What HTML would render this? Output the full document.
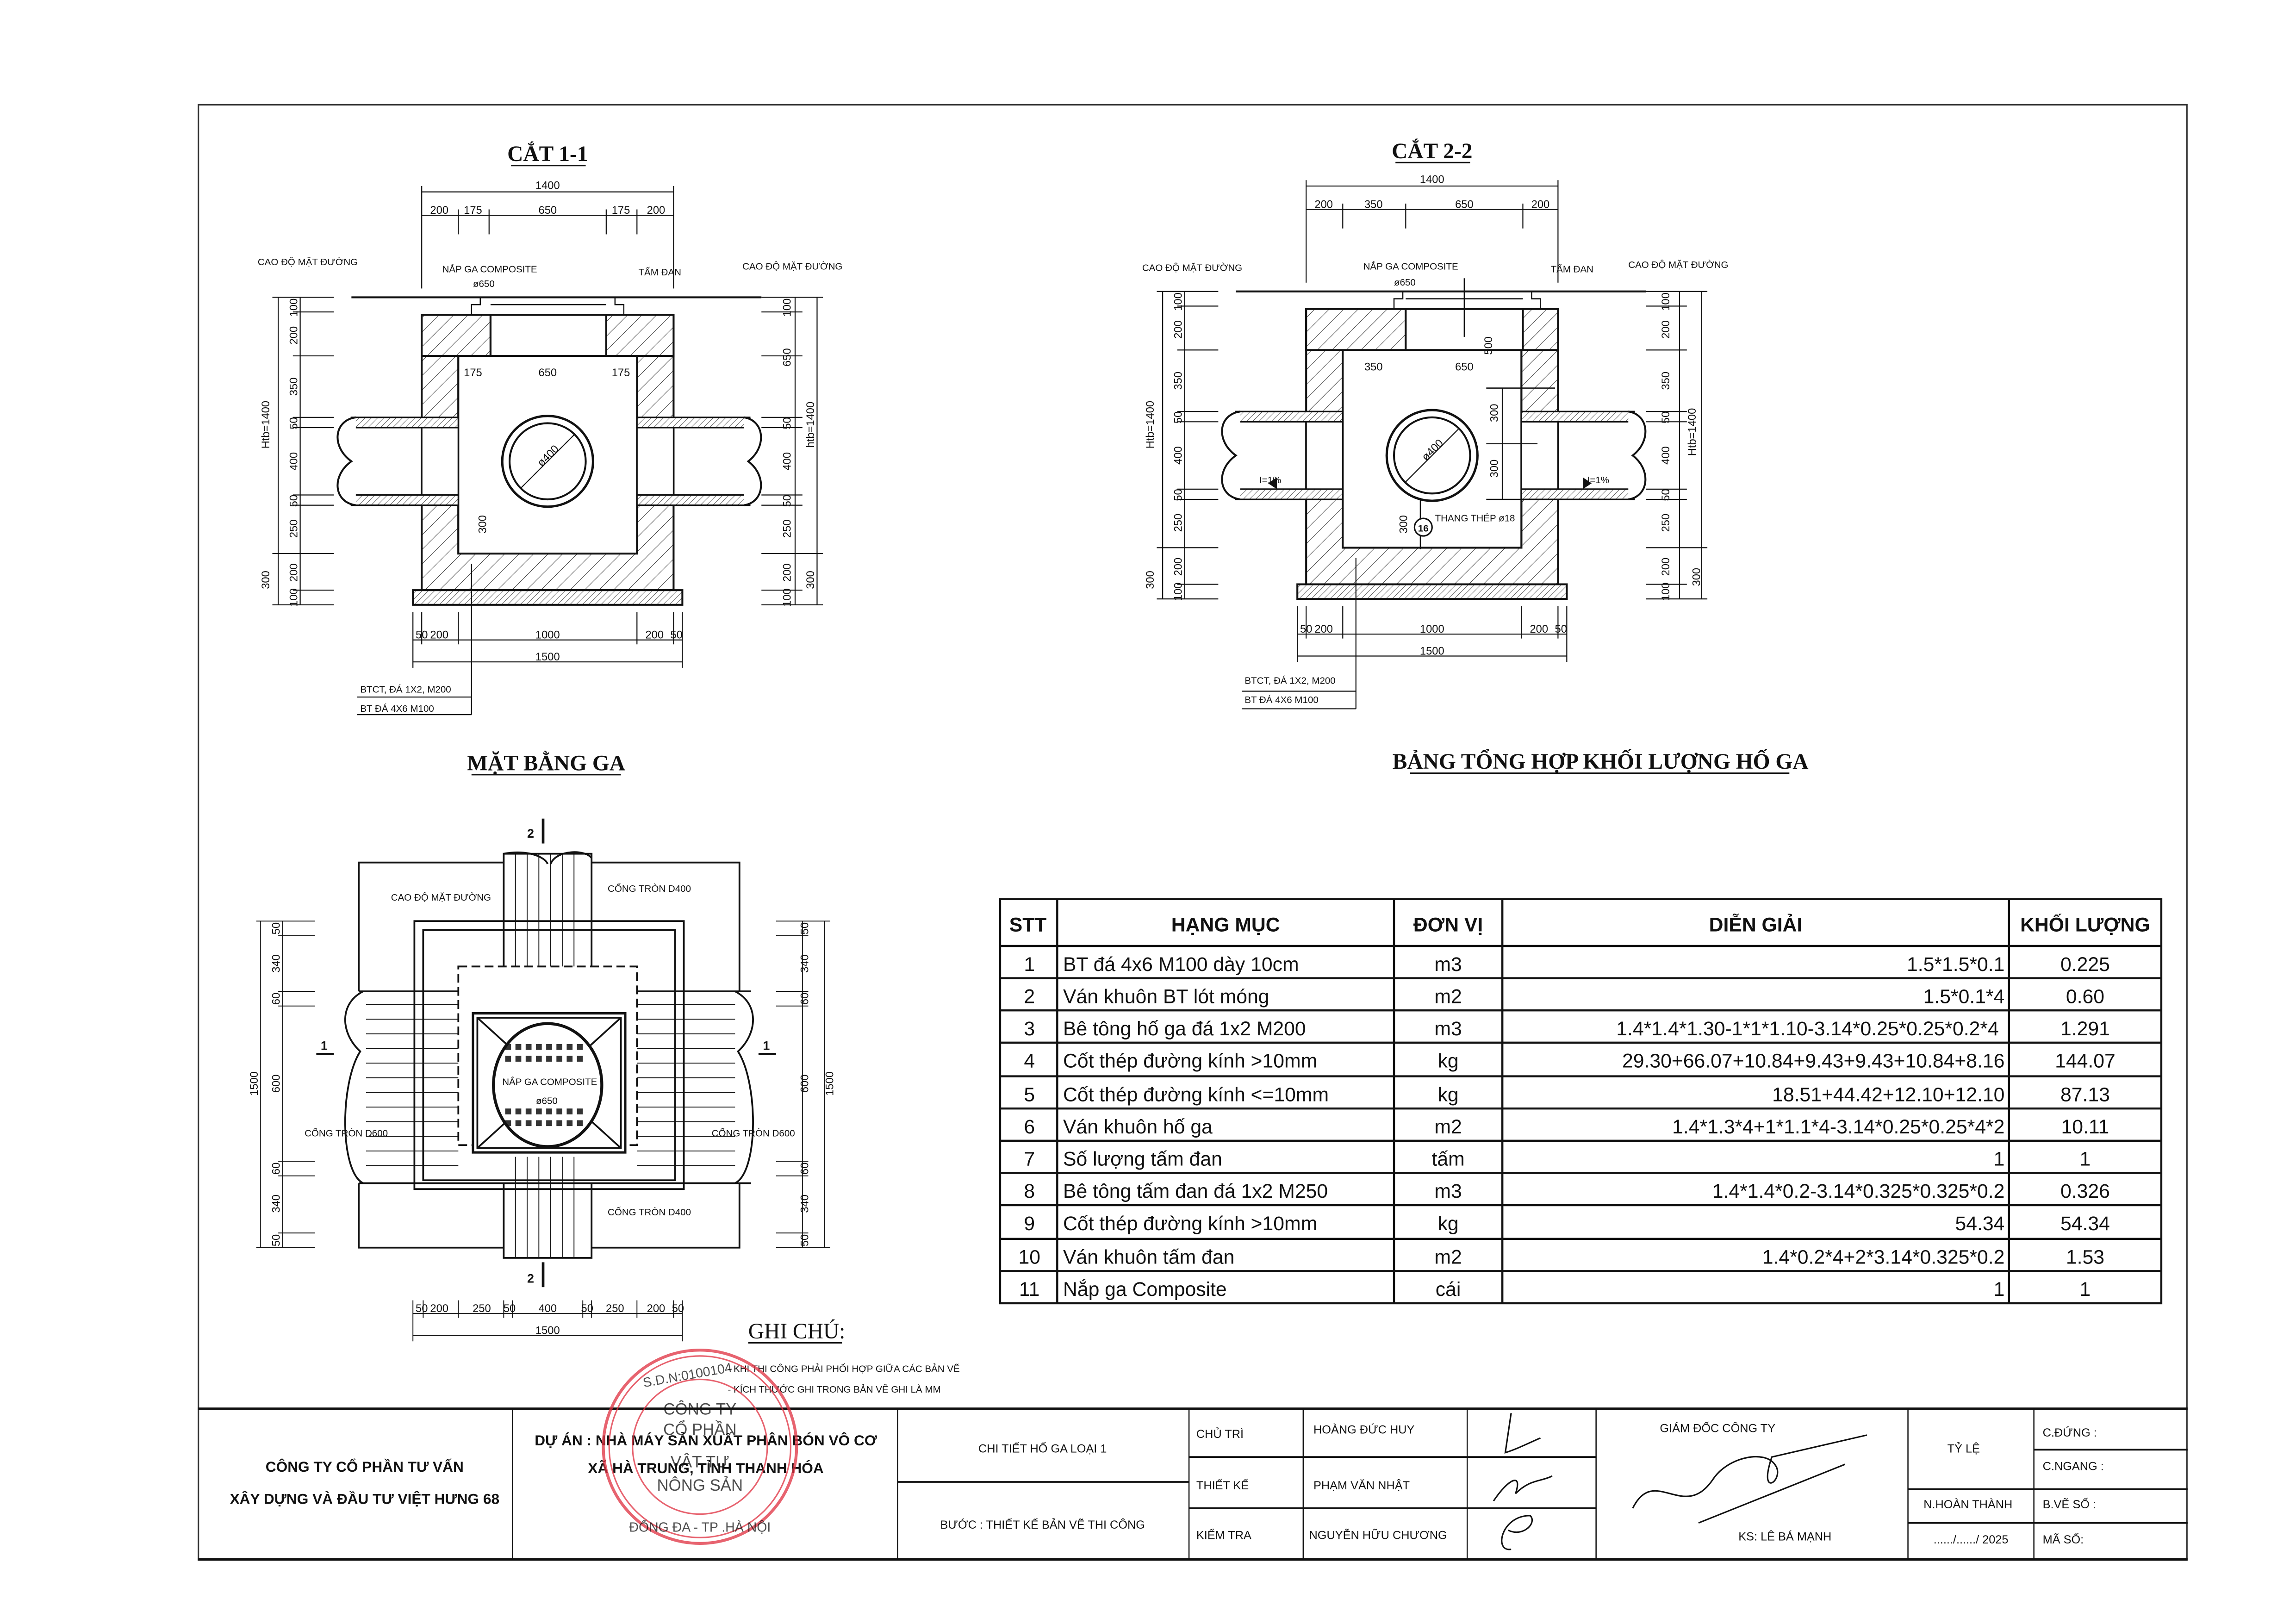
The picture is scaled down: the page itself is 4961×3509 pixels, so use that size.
<!DOCTYPE html>
<html><head><meta charset="utf-8"><style>
html,body{margin:0;padding:0;background:#fff;}
svg{display:block}
text{font-family:"Liberation Sans Narrow","Liberation Sans",sans-serif;fill:#111}
.s{font-size:6.5px}
.d{font-size:7.5px}
.t{font-family:"Liberation Serif",serif;font-size:15px;font-weight:bold}
.tb{font-size:13.5px}
.th{font-size:13.5px;font-weight:bold}
.bk{font-weight:bold;font-size:10px}
.sm{font-size:8.5px}
</style></head><body>
<svg width="4961" height="3509" viewBox="0 0 1568 1109" xmlns="http://www.w3.org/2000/svg">
<defs>
<pattern id="h" width="7" height="7" patternUnits="userSpaceOnUse" patternTransform="rotate(45)"><rect width="7" height="7" fill="#fff"/><line x1="0" y1="0" x2="0" y2="7" stroke="#222" stroke-width="0.6"/></pattern>
<pattern id="h2" width="3" height="3" patternUnits="userSpaceOnUse" patternTransform="rotate(45)"><rect width="3" height="3" fill="#fff"/><line x1="0" y1="0" x2="0" y2="3" stroke="#222" stroke-width="0.5"/></pattern>
<g id="sec" fill="none" stroke="#111" stroke-width="1">
  <path d="M288 215H460V403H288Z M313 243H435V378H313Z" fill="url(#h)" fill-rule="evenodd" stroke-width="1.3"/>
  <rect x="313" y="243" width="122" height="135" fill="#fff" stroke-width="1.3"/>
  <rect x="282" y="403" width="184" height="10" fill="url(#h2)" stroke-width="1.3"/>
  <rect x="240" y="285" width="73" height="7" fill="url(#h2)"/>
  <rect x="240" y="338" width="73" height="7" fill="url(#h2)"/>
  <rect x="288" y="292" width="25" height="46" fill="#fff"/>
  <rect x="435" y="285" width="77" height="7" fill="url(#h2)"/>
  <rect x="435" y="338" width="77" height="7" fill="url(#h2)"/>
  <rect x="435" y="292" width="25" height="46" fill="#fff"/>
  <path d="M243 285C228 287 226 305 240 315C226 325 228 343 243 345" fill="#fff" stroke-width="1.3"/>
  <path d="M508 285C522 287 524 305 511 315C524 325 522 343 508 345" fill="#fff" stroke-width="1.3"/>
  <circle cx="374" cy="315" r="31" stroke-width="1.6"/>
  <circle cx="374" cy="315" r="26" stroke-width="1.3"/>
  <line x1="356" y1="333" x2="392" y2="297" stroke-width="0.7"/>
  <line x1="240" y1="203" x2="520" y2="203" stroke-width="1.3"/>
  <path d="M288 131H460 M288 147H460 M288 127V197 M460 127V197" stroke-width="0.7"/>
  <path d="M190 203V413 M205 203V413 M186 203H228 M200 213H228 M200 243H228 M200 285H228 M200 292H228 M200 338H228 M200 345H228 M186 378H228 M200 403H228 M186 413H228" stroke-width="0.7"/>
  <path d="M543 203V413 M558 203V413 M520 203H562 M520 213H548 M520 243H548 M520 285H548 M520 292H548 M520 338H548 M520 345H548 M520 378H562 M520 403H548 M520 413H562" stroke-width="0.7"/>
  <path d="M282 437H466 M282 452H466 M282 418V456 M288 418V440 M313 418V440 M435 418V440 M460 418V440 M466 418V456" stroke-width="0.7"/>
  <path d="M322 385V488 M244 476H322 M244 488H322" stroke-width="0.7"/>
</g>
</defs>

<rect width="1568" height="1109" fill="#fff"/>
<rect x="135.5" y="71.5" width="1358" height="993" fill="none" stroke="#333" stroke-width="1"/>

<!-- SECTION 1-1 -->
<use href="#sec"/>
<g fill="none" stroke="#111" stroke-width="1.3">
<rect x="288" y="215" width="47" height="28" fill="url(#h)"/>
<rect x="414" y="215" width="46" height="28" fill="url(#h)"/>
<rect x="335" y="215" width="79" height="28" fill="#fff"/>
<path d="M322 215V208H328V203M426 215V208H420V203 M335 208H414" stroke-width="0.8"/>
<path d="M313 143V160 M334 143V160 M414 143V160 M435 143V160" stroke-width="0.7"/>
</g>
<text class="t" x="374" y="110" text-anchor="middle">CẮT 1-1</text>
<line x1="349" y1="113" x2="400" y2="113" stroke="#111"/>
<g class="d" text-anchor="middle">
<text x="374" y="129">1400</text><text x="300" y="146">200</text><text x="323" y="146">175</text><text x="374" y="146">650</text><text x="424" y="146">175</text><text x="448" y="146">200</text>
<text x="323" y="257">175</text><text x="374" y="257">650</text><text x="424" y="257">175</text>
<text x="288" y="436">50</text><text x="300" y="436">200</text><text x="374" y="436">1000</text><text x="447" y="436">200</text><text x="462" y="436">50</text><text x="374" y="451">1500</text>
</g>
<g class="s"><text x="176" y="181">CAO ĐỘ MẶT ĐƯỜNG</text><text x="302" y="186">NẮP GA COMPOSITE</text><text x="323" y="196">ø650</text><text x="436" y="188">TẤM ĐAN</text><text x="507" y="184">CAO ĐỘ MẶT ĐƯỜNG</text>
<text x="246" y="473">BTCT, ĐÁ 1X2, M200</text><text x="246" y="486">BT ĐÁ 4X6 M100</text></g>
<g class="d" text-anchor="middle">
<text transform="translate(203,210) rotate(-90)">100</text><text transform="translate(203,229) rotate(-90)">200</text><text transform="translate(203,264) rotate(-90)">350</text><text transform="translate(203,289) rotate(-90)">50</text><text transform="translate(203,315) rotate(-90)">400</text><text transform="translate(203,342) rotate(-90)">50</text><text transform="translate(203,361) rotate(-90)">250</text><text transform="translate(203,391) rotate(-90)">200</text><text transform="translate(203,408) rotate(-90)">100</text>
<text transform="translate(184,290) rotate(-90)">Htb=1400</text><text transform="translate(184,396) rotate(-90)">300</text>
<text transform="translate(540,210) rotate(-90)">100</text><text transform="translate(540,244) rotate(-90)">650</text><text transform="translate(540,289) rotate(-90)">50</text><text transform="translate(540,315) rotate(-90)">400</text><text transform="translate(540,342) rotate(-90)">50</text><text transform="translate(540,361) rotate(-90)">250</text><text transform="translate(540,391) rotate(-90)">200</text><text transform="translate(540,408) rotate(-90)">100</text>
<text transform="translate(556,290) rotate(-90)">htb=1400</text><text transform="translate(556,396) rotate(-90)">300</text>
<text transform="translate(332,358) rotate(-90)">300</text>
<text transform="translate(376,313) rotate(-45)">ø400</text>
</g>

<!-- SECTION 2-2 -->
<g transform="translate(604,-4)"><use href="#sec"/></g>
<g fill="none" stroke="#111" stroke-width="1.3">
<rect x="892" y="211" width="68" height="28" fill="url(#h)"/>
<rect x="1040" y="211" width="24" height="28" fill="url(#h)"/>
<rect x="960" y="211" width="80" height="28" fill="#fff"/>
<path d="M952 211V204H958V199M1052 211V204H1046V199 M960 204H1040" stroke-width="0.8"/>
<path d="M917 139V156 M960 139V156 M1040 139V156" stroke-width="0.7"/>
</g>
<text class="t" x="978" y="108" text-anchor="middle">CẮT 2-2</text>
<line x1="953" y1="111" x2="1004" y2="111" stroke="#111"/>
<g class="d" text-anchor="middle">
<text x="978" y="125">1400</text><text x="904" y="142">200</text><text x="938" y="142">350</text><text x="1000" y="142">650</text><text x="1052" y="142">200</text>
<text x="938" y="253">350</text><text x="1000" y="253">650</text>
<text x="892" y="432">50</text><text x="904" y="432">200</text><text x="978" y="432">1000</text><text x="1051" y="432">200</text><text x="1066" y="432">50</text><text x="978" y="447">1500</text>
<text transform="translate(807,206) rotate(-90)">100</text><text transform="translate(807,225) rotate(-90)">200</text><text transform="translate(807,260) rotate(-90)">350</text><text transform="translate(807,285) rotate(-90)">50</text><text transform="translate(807,311) rotate(-90)">400</text><text transform="translate(807,338) rotate(-90)">50</text><text transform="translate(807,357) rotate(-90)">250</text><text transform="translate(807,387) rotate(-90)">200</text><text transform="translate(807,404) rotate(-90)">100</text>
<text transform="translate(788,290) rotate(-90)">Htb=1400</text><text transform="translate(788,396) rotate(-90)">300</text>
<text transform="translate(1140,206) rotate(-90)">100</text><text transform="translate(1140,225) rotate(-90)">200</text><text transform="translate(1140,260) rotate(-90)">350</text><text transform="translate(1140,285) rotate(-90)">50</text><text transform="translate(1140,311) rotate(-90)">400</text><text transform="translate(1140,338) rotate(-90)">50</text><text transform="translate(1140,357) rotate(-90)">250</text><text transform="translate(1140,387) rotate(-90)">200</text><text transform="translate(1140,404) rotate(-90)">100</text>
<text transform="translate(1158,295) rotate(-90)">Htb=1400</text><text transform="translate(1161,394) rotate(-90)">300</text>
<text transform="translate(1019,236) rotate(-90)">500</text><text transform="translate(1023,282) rotate(-90)">300</text><text transform="translate(1023,320) rotate(-90)">300</text><text transform="translate(961,358) rotate(-90)">300</text>
<text transform="translate(980,309) rotate(-45)">ø400</text>
</g>
<g stroke="#111" stroke-width="0.8" fill="none"><path d="M1015 265H1062 M1015 303H1050 M1015 341H1062 M1026 265V341 M1000 190V230 M970 340V375"/></g>
<path d="M866 330L872 326V334Z M1087 330L1081 326V334Z" fill="#111"/>
<circle cx="972" cy="360" r="6" fill="#fff" stroke="#111"/>
<text class="s" x="972" y="363" text-anchor="middle" font-weight="bold">16</text>
<g class="s"><text x="780" y="185">CAO ĐỘ MẶT ĐƯỜNG</text><text x="931" y="184">NẮP GA COMPOSITE</text><text x="952" y="195">ø650</text><text x="1059" y="186">TẤM ĐAN</text><text x="1112" y="183">CAO ĐỘ MẶT ĐƯỜNG</text>
<text x="980" y="356">THANG THÉP ø18</text><text x="860" y="330">I=1%</text><text x="1084" y="330">I=1%</text>
<text x="850" y="467">BTCT, ĐÁ 1X2, M200</text><text x="850" y="480">BT ĐÁ 4X6 M100</text></g>

<!-- MẶT BẰNG GA -->
<text class="t" x="373" y="526" text-anchor="middle">MẶT BẰNG GA</text>
<line x1="322" y1="529" x2="424" y2="529" stroke="#111"/>
<g fill="none" stroke="#111" stroke-width="1.2">
 <rect x="245" y="589" width="260" height="263"/>
 <rect x="344" y="583" width="60" height="276" fill="#fff"/>
 <rect x="235" y="677" width="278" height="131" fill="#fff" stroke="none"/>
 <path d="M245 677H513 M245 808H513"/>
 <path d="M248 677C232 685 232 705 246 718C232 740 232 800 248 808" fill="#fff"/>
 <path d="M502 677C518 685 518 705 504 718C518 740 518 800 502 808" fill="#fff"/>
 <path d="M344 583C360 580 372 585 374 590 M376 590C380 580 400 580 404 586"/>
 <rect x="283" y="629" width="184" height="183"/>
 <rect x="289" y="635" width="172" height="171"/>
 <rect x="313" y="660" width="122" height="122" stroke-dasharray="6,3" fill="#fff"/>
 <rect x="323" y="692" width="104" height="95" fill="#fff" stroke-width="1.6"/>
 <rect x="326" y="695" width="98" height="89"/>
 <path d="M326 695L424 784 M424 695L326 784"/>
 <ellipse cx="374" cy="741" rx="37" ry="42" fill="#fff" stroke-width="2"/>
</g>
<g stroke="#111" stroke-width="0.6">
 <path d="M352 583V660 M360 583V660 M368 583V660 M376 583V660 M384 583V660 M392 583V660 M352 790V859 M360 790V859 M368 790V859 M376 790V859 M384 790V859 M392 790V859"/>
 <path d="M250 686H313 M250 696H313 M250 706H313 M250 716H313 M250 726H313 M250 736H313 M250 746H313 M250 756H313 M250 766H313 M250 776H313 M250 786H313 M250 796H313"/>
 <path d="M435 686H502 M435 696H502 M435 706H502 M435 716H502 M435 726H502 M435 736H502 M435 746H502 M435 756H502 M435 766H502 M435 776H502 M435 786H502 M435 796H502"/>
 <path d="M178 629V852 M193 629V852 M175 629H215 M190 639H215 M190 677H215 M190 687H215 M190 793H215 M190 803H215 M190 842H215 M175 852H215"/>
 <path d="M563 629V852 M548 629V852 M530 629H567 M530 639H552 M530 677H552 M530 687H552 M530 793H552 M530 803H552 M530 842H552 M530 852H567"/>
 <path d="M282 897H466 M282 912H466 M282 888V916 M289 888V900 M313 888V900 M344 888V900 M350 888V900 M398 888V900 M404 888V900 M435 888V900 M460 888V900 M466 888V916"/>
</g>
<g fill="#111" opacity="0.85">
<rect x="345" y="713" width="4" height="4"/><rect x="352" y="713" width="4" height="4"/><rect x="359" y="713" width="4" height="4"/><rect x="366" y="713" width="4" height="4"/><rect x="373" y="713" width="4" height="4"/><rect x="380" y="713" width="4" height="4"/><rect x="387" y="713" width="4" height="4"/><rect x="394" y="713" width="4" height="4"/>
<rect x="345" y="721" width="4" height="4"/><rect x="352" y="721" width="4" height="4"/><rect x="359" y="721" width="4" height="4"/><rect x="366" y="721" width="4" height="4"/><rect x="373" y="721" width="4" height="4"/><rect x="380" y="721" width="4" height="4"/><rect x="387" y="721" width="4" height="4"/><rect x="394" y="721" width="4" height="4"/>
<rect x="345" y="757" width="4" height="4"/><rect x="352" y="757" width="4" height="4"/><rect x="359" y="757" width="4" height="4"/><rect x="366" y="757" width="4" height="4"/><rect x="373" y="757" width="4" height="4"/><rect x="380" y="757" width="4" height="4"/><rect x="387" y="757" width="4" height="4"/><rect x="394" y="757" width="4" height="4"/>
<rect x="345" y="765" width="4" height="4"/><rect x="352" y="765" width="4" height="4"/><rect x="359" y="765" width="4" height="4"/><rect x="366" y="765" width="4" height="4"/><rect x="373" y="765" width="4" height="4"/><rect x="380" y="765" width="4" height="4"/><rect x="387" y="765" width="4" height="4"/><rect x="394" y="765" width="4" height="4"/>
</g>
<g fill="#111"><rect x="370" y="559" width="1.8" height="17"/><rect x="370" y="862" width="1.8" height="17"/><rect x="216" y="719" width="12" height="1.5"/><rect x="518" y="719" width="12" height="1.5"/></g>
<g class="sm" font-weight="bold"><text x="360" y="572">2</text><text x="360" y="876">2</text><text x="219" y="717">1</text><text x="521" y="717">1</text></g>
<g class="s"><text x="267" y="615">CAO ĐỘ MẶT ĐƯỜNG</text><text x="415" y="609">CỐNG TRÒN D400</text><text x="415" y="830">CỐNG TRÒN D400</text><text x="208" y="776">CỐNG TRÒN D600</text><text x="486" y="776">CỐNG TRÒN D600</text><text x="343" y="741">NẮP GA COMPOSITE</text><text x="366" y="754">ø650</text></g>
<g class="d" text-anchor="middle">
<text x="288" y="896">50</text><text x="300" y="896">200</text><text x="329" y="896">250</text><text x="348" y="896">50</text><text x="374" y="896">400</text><text x="401" y="896">50</text><text x="420" y="896">250</text><text x="448" y="896">200</text><text x="463" y="896">50</text><text x="374" y="911">1500</text>
<text transform="translate(191,634) rotate(-90)">50</text><text transform="translate(191,658) rotate(-90)">340</text><text transform="translate(191,682) rotate(-90)">60</text><text transform="translate(191,740) rotate(-90)">600</text><text transform="translate(191,798) rotate(-90)">60</text><text transform="translate(191,822) rotate(-90)">340</text><text transform="translate(191,847) rotate(-90)">50</text><text transform="translate(176,740) rotate(-90)">1500</text>
<text transform="translate(552,634) rotate(-90)">50</text><text transform="translate(552,658) rotate(-90)">340</text><text transform="translate(552,682) rotate(-90)">60</text><text transform="translate(552,740) rotate(-90)">600</text><text transform="translate(552,798) rotate(-90)">60</text><text transform="translate(552,822) rotate(-90)">340</text><text transform="translate(552,847) rotate(-90)">50</text><text transform="translate(569,740) rotate(-90)">1500</text>
</g>

<!-- TABLE -->
<text class="t" x="1093" y="525" text-anchor="middle">BẢNG TỔNG HỢP KHỐI LƯỢNG HỐ GA</text>
<line x1="963" y1="528" x2="1222" y2="528" stroke="#111"/>
<g stroke="#111" stroke-width="1.4" fill="none">
<rect x="683" y="614" width="793" height="276"/>
<path d="M722 614V890 M952 614V890 M1026 614V890 M1372 614V890"/>
<path d="M683 646H1476 M683 668H1476 M683 690H1476 M683 712H1476 M683 735H1476 M683 757H1476 M683 779H1476 M683 801H1476 M683 823H1476 M683 846H1476 M683 868H1476"/>
</g>
<g class="th" text-anchor="middle"><text x="702" y="636">STT</text><text x="837" y="636">HẠNG MỤC</text><text x="989" y="636">ĐƠN VỊ</text><text x="1199" y="636">DIỄN GIẢI</text><text x="1424" y="636">KHỐI LƯỢNG</text></g>
<g class="tb">
<g text-anchor="middle"><text x="703" y="663">1</text><text x="703" y="685">2</text><text x="703" y="707">3</text><text x="703" y="729">4</text><text x="703" y="752">5</text><text x="703" y="774">6</text><text x="703" y="796">7</text><text x="703" y="818">8</text><text x="703" y="840">9</text><text x="703" y="863">10</text><text x="703" y="885">11</text>
<text x="989" y="663">m3</text><text x="989" y="685">m2</text><text x="989" y="707">m3</text><text x="989" y="729">kg</text><text x="989" y="752">kg</text><text x="989" y="774">m2</text><text x="989" y="796">tấm</text><text x="989" y="818">m3</text><text x="989" y="840">kg</text><text x="989" y="863">m2</text><text x="989" y="885">cái</text>
<text x="1424" y="663">0.225</text><text x="1424" y="685">0.60</text><text x="1424" y="707">1.291</text><text x="1424" y="729">144.07</text><text x="1424" y="752">87.13</text><text x="1424" y="774">10.11</text><text x="1424" y="796">1</text><text x="1424" y="818">0.326</text><text x="1424" y="840">54.34</text><text x="1424" y="863">1.53</text><text x="1424" y="885">1</text></g>
<text x="726" y="663">BT đá 4x6 M100 dày 10cm</text><text x="726" y="685">Ván khuôn BT lót móng</text><text x="726" y="707">Bê tông hố ga đá 1x2 M200</text><text x="726" y="729">Cốt thép đường kính &gt;10mm</text><text x="726" y="752">Cốt thép đường kính &lt;=10mm</text><text x="726" y="774">Ván khuôn hố ga</text><text x="726" y="796">Số lượng tấm đan</text><text x="726" y="818">Bê tông tấm đan đá 1x2 M250</text><text x="726" y="840">Cốt thép đường kính &gt;10mm</text><text x="726" y="863">Ván khuôn tấm đan</text><text x="726" y="885">Nắp ga Composite</text>
<g text-anchor="end"><text x="1369" y="663">1.5*1.5*0.1</text><text x="1369" y="685">1.5*0.1*4</text><text x="1365" y="707">1.4*1.4*1.30-1*1*1.10-3.14*0.25*0.25*0.2*4</text><text x="1369" y="729">29.30+66.07+10.84+9.43+9.43+10.84+8.16</text><text x="1369" y="752">18.51+44.42+12.10+12.10</text><text x="1369" y="774">1.4*1.3*4+1*1.1*4-3.14*0.25*0.25*4*2</text><text x="1369" y="796">1</text><text x="1369" y="818">1.4*1.4*0.2-3.14*0.325*0.325*0.2</text><text x="1369" y="840">54.34</text><text x="1369" y="863">1.4*0.2*4+2*3.14*0.325*0.2</text><text x="1369" y="885">1</text></g>
</g>

<!-- GHI CHU -->
<text x="511" y="914" style="font-family:'Liberation Serif',serif;font-size:15px">GHI CHÚ:</text>
<line x1="511" y1="917" x2="575" y2="917" stroke="#111"/>
<g class="s"><text x="497" y="937">- KHI THI CÔNG PHẢI PHỐI HỢP GIỮA CÁC BẢN VẼ</text><text x="497" y="951">- KÍCH THƯỚC GHI TRONG BẢN VẼ GHI LÀ MM</text></g>

<!-- TITLE BLOCK -->
<g stroke="#111" fill="none">
<path d="M135 962H1494 M135 1065H1494" stroke-width="1.6"/>
<path d="M350 962V1065 M613 962V1065 M812 962V1065 M890 962V1065 M1002 962V1065 M1090 962V1065 M1303 962V1065 M1389 962V1065" stroke-width="0.8"/>
<path d="M613 1012H812 M812 995H1090 M812 1030H1090 M1303 1017H1494 M1303 1040H1494 M1389 990H1494" stroke-width="1.2"/>
</g>
<g class="bk" text-anchor="middle"><text x="249" y="1005">CÔNG TY CỔ  PHẦN TƯ VẤN</text><text x="249" y="1027">XÂY DỰNG VÀ ĐẦU TƯ VIỆT HƯNG 68</text><text x="482" y="987">DỰ ÁN : NHÀ MÁY SẢN XUẤT PHÂN BÓN VÔ CƠ</text><text x="482" y="1006">XÃ  HÀ TRUNG, TỈNH THANH HÓA</text></g>
<g class="s" style="font-size:8px">
<text x="712" y="992" text-anchor="middle">CHI TIẾT HỐ GA LOẠI 1</text><text x="712" y="1044" text-anchor="middle">BƯỚC : THIẾT KẾ BẢN VẼ THI CÔNG</text>
<text x="817" y="982">CHỦ TRÌ</text><text x="817" y="1017">THIẾT KẾ</text><text x="817" y="1051">KIỂM TRA</text>
<text x="897" y="979">HOÀNG ĐỨC HUY</text><text x="897" y="1017">PHẠM VĂN NHẬT</text><text x="894" y="1051">NGUYỄN HỮU CHƯƠNG</text>
<text x="1173" y="978" text-anchor="middle">GIÁM ĐỐC CÔNG TY</text><text x="1219" y="1052" text-anchor="middle">KS: LÊ BÁ MẠNH</text>
<text x="1341" y="992" text-anchor="middle">TỶ LỆ</text><text x="1344" y="1030" text-anchor="middle">N.HOÀN THÀNH</text><text x="1346" y="1054" text-anchor="middle">....../....../ 2025</text>
<text x="1395" y="981">C.ĐỨNG :</text><text x="1395" y="1004">C.NGANG :</text><text x="1395" y="1030">B.VẼ SỐ :</text><text x="1395" y="1054">MÃ SỐ:</text>
</g>
<g fill="none" stroke="#111" stroke-width="1">
<path d="M1032 965L1028 992C1035 990 1045 985 1052 982"/>
<path d="M1020 1025C1030 1010 1040 1005 1035 1020C1045 1010 1052 1012 1060 1008"/>
<path d="M1032 1058C1020 1060 1025 1035 1045 1035C1050 1040 1040 1050 1030 1045"/>
<path d="M1115 1030C1130 1000 1150 1040 1170 1010C1180 995 1205 990 1212 1000C1220 1010 1200 1025 1210 995L1275 980 M1160 1040L1260 1000"/>
</g>
<g fill="none" stroke="#e03040" opacity="0.75">
<circle cx="478" cy="988" r="66" stroke-width="2"/><circle cx="478" cy="988" r="62" stroke-width="1"/><circle cx="478" cy="988" r="46" stroke-width="1"/>
</g>
<g fill="#e03040" opacity="0.75" text-anchor="middle" style="font-family:'Liberation Sans',sans-serif;font-size:11px">
<text x="478" y="966">CÔNG TY</text><text x="478" y="980">CỔ PHẦN</text><text x="478" y="1002">VẬT TƯ</text><text x="478" y="1018">NÔNG SẢN</text>
<text x="470" y="942" font-size="9" transform="rotate(-10 470 942)">S.D.N:0100104</text><text x="478" y="1046" font-size="9">ĐỐNG ĐA - TP .HÀ NỘI</text>
</g>
</svg>
</body></html>
